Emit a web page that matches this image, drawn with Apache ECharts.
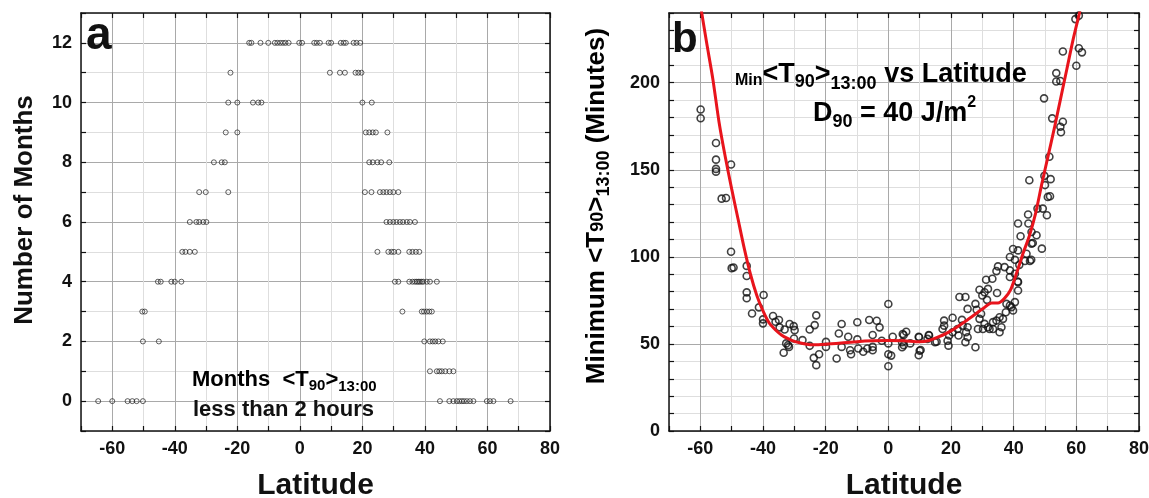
<!DOCTYPE html>
<html><head><meta charset="utf-8">
<script src="https://cdn.jsdelivr.net/npm/echarts@6/dist/echarts.min.js"></script>
<style>html,body{margin:0;padding:0;background:#fff}#c{width:1149px;height:498px}</style>
</head><body><div id="c"></div>
<script>
const FONT = '"Liberation Sans", Arial, Helvetica, sans-serif';

// ---------- Panel a: latitudes of sites, one array per "number of months" row ----------
const monthsRows = [0,1,2,3,4,5,6,7,8,9,10,11,12];
const latM0  = [-64.5,-60,-55.1,-53.6,-52.2,-50.2, 44.8,47.8,49.1,50.2,51,51.8,52.5,53.4,54.4,55.5,59.8,60.8,61.9,67.4];
const latM1  = [41.6,43.8,44.6,45.4,46.5,47.8,49.1];
const latM2  = [-50.2,-45.1, 39.8,41.6,42.5,43.3,44.3,45.7];
const latM3  = [-50.4,-49.6, 32.8,39,39.7,40.6,41.4,42.2];
const latM4  = [-45.4,-44.5,-41.1,-40,-37.9, 30.4,31.5,35,36,36.8,37.4,37.9,38.4,39,39.5,40.6,41.6,43.8];
const latM5  = [-37.6,-36.6,-35.2,-33.6, 24.8,28.3,29.3,30.1,31.5,35,36,37.1,38.2];
const latM6  = [-35.2,-33.1,-32.2,-30.9,-29.9, 27.7,28.8,29.9,30.9,32,33,34.2,35.2,36.8];
const latM7  = [-32.2,-30.1,-22.9, 20.8,22.9,25.6,26.7,27.7,28.8,29.9,31.5];
const latM8  = [-27.5,-25,-24, 22.2,23.3,24.8,26,28.6];
const latM9  = [-23.7,-20, 21.1,22.2,23.3,24.3,28];
const latM10 = [-22.9,-20,-15,-13.3,-12.3, 20,23];
const latM11 = [-22.2, 9.6,12.8,14.4,17.8,18.7,19.7];
const latM12 = [-16.2,-15.5,-12.6,-10.1,-8,-7.2,-6.3,-5.4,-4.6,-3.6,-0.2,0.7,4.6,5.4,6.4,9.2,10,13.1,14,14.7,17.2,18.1,19.3];
const rowsA = [latM0,latM1,latM2,latM3,latM4,latM5,latM6,latM7,latM8,latM9,latM10,latM11,latM12];

// ---------- Panel b: minimum <T90>13:00 (minutes) vs latitude ----------
const bLat = [
 -59.9,-59.9,-55,-55,-55,-55,-50.2,-53.2,-51.8,-50.2,-50,-49.4,-45.2,-45.2,-45.2,-45.2,-43.5,-41.3,-39.8,-40,-40,
 -36.8,-36,-34.9,-34.7,-33.1,-31.5,-30.2,-29.9,-32.6,-32,-31.7,-33.4,-30.1,-27.4,-25.1,-25.1,-23.5,-23,-23.8,-23,-22.1,
 -19.9,-19.9,-16.5,-15.8,-14.9,-14.9,-12.8,-12.2,-11.9,-9.9,-9.9,-9.6,-8,-6.7,-6.1,-5,-5,-5,-3.7,-2.8,-2.1,
 0,0,0,0.9,0,1.4,4.9,4.9,5.7,7,9.7,9.7,
 59.7,60.8,55.7,60.8,61.8,60,53.6,53.6,54.9,49.7,52.3,55.7,54.9,55.1,51.4,49.8,51.8,45,50,50.9,51.6,47.6,49.3,50.6,
 44.6,44.7,41.4,45.7,47.3,42.2,45.7,49,39.8,41.4,44.1,43.6,45.2,38.8,40.4,35,37.1,34.5,38.8,40.4,31.2,33.2,38.8,41.4,
 29.1,30.7,31.8,30,31.5,34.7,41.4,22.7,24.6,27.8,25.3,28.2,29.6,29.1,30.7,31.8,33.4,33.4,35.5,37.7,38.8,39.3,39.8,40.4,
 35.5,36.6,37.5,34.5,36.1,32.3,30.2,28.6,20.5,17.8,17.8,23.5,23.7,25.3,22.1,20.5,22.4,24.8,25.3,24.6,27.8,19.4,18.9,
 19.2,17.3,14.9,13,12.5,9.8,10,4.6,4.4,4.4,10.3,12.9,15.4,45.6,46.1,41.8,41.3
];
const bMin = [
 184.6,179.6,165.4,155.8,150.5,148.9,153,133.4,133.8,102.9,93.5,93.9,94.8,89,79.6,76.2,67.5,71,78.1,64.1,61.8,
 66,62.7,63.7,59.5,58.3,61.4,60.2,57.9,50.3,49.3,48.3,44.9,53.1,52.2,48.9,58.3,60.8,66.4,42,37.8,44.1,
 51.2,48.3,41.6,56,61.4,48.3,54.1,46.4,44.1,62.4,52.6,47.4,45.5,47.4,63.7,55.1,48.3,46.4,63.3,59.5,51.8,
 72.9,50.3,44.1,43.3,37.2,54.1,55.1,49.3,57,50.3,54.1,43.5,
 236.5,238.5,217.9,219.8,217.4,209.7,205.5,200.7,201,191,179.5,177.6,174.7,171.5,157.5,146.5,144.6,144,141.2,134.4,134.8,127.7,127.7,123.9,
 124.3,119.1,119.1,114.3,112.4,111.8,107.6,104.7,104.5,103.7,101.8,97.6,97.6,99.9,98.3,94.5,94.1,91.8,92.2,90.3,86.8,87.4,88.4,85.5,
 81.1,79.7,81.6,77.8,75.3,79.2,80.7,76.9,76.9,73,70.1,69.6,67.3,64.4,61.5,59.6,62.5,58.6,56.7,73,72.1,71.1,69.2,74,
 65.3,64.4,68.2,63.4,59.6,58.6,58.6,58.6,65,63.4,60.5,63.8,60.5,59.6,58.6,56.7,54.8,56.7,53.8,51,48.1,54.8,51.8,
 49,58.6,51,54.8,52.9,53.8,46.1,55.7,51,48.1,46.5,55.1,51.3,98.3,107.9,95.4,85.8
];
// fitted red curve
const curveLat = [-60,-58,-56,-54,-52,-50,-48,-46,-44,-42,-40,-38,-36,-34,-32,-30,-28,-26,-24,-20,-15,-10,-5,0,5,10,13,16,20,25,30,33,35,37,39,41,43,45,47,49,51,53,55,57,59,61,62];
const curveMin = [245,223,202,177,157,139,122,105,90,78,69,62,58,55,53,51.5,50.5,49.8,49.5,49.8,50.5,51.3,51.8,52,51.8,51.2,52,54,57.5,63.5,70,73.5,73.5,76,81,91,102,112,125,142,158,174,191,208,225,240,248];

// tick labels
const xTickLabels = [-60,-40,-20,0,20,40,60,80];
const yTickLabelsA = [0,2,4,6,8,10,12];
const yTickLabelsB = [0,50,100,150,200];

const dataA = [];
rowsA.forEach((row, i) => row.forEach(lat => dataA.push([lat, monthsRows[i]])));
const dataB = bLat.map((v, i) => [v, bMin[i]]);
const dataCurve = curveLat.map((v, i) => [v, curveMin[i]]);

const MAJ = '#a9a9a9', MIN = '#dedede';
function baseX(gi, top, name) {
  return {
    type: 'value', gridIndex: gi, position: top ? 'top' : 'bottom',
    min: -70, max: 80, interval: 10,
    name: top ? '' : name, nameLocation: 'middle', nameGap: 40,
    nameTextStyle: {fontFamily: FONT, fontWeight: 'bold', fontSize: 30, color: '#111'},
    axisLine: {show: true, onZero: false, lineStyle: {color: '#111', width: 1.5}},
    axisTick: {show: true, inside: true, length: 5, lineStyle: {color: '#111', width: 1.2}},
    axisLabel: {show: !top, margin: 9, fontFamily: FONT, fontWeight: 'bold', fontSize: 18, color: '#111',
      formatter: v => xTickLabels.includes(v) ? String(v) : ''},
    splitLine: {show: !top, lineStyle: {color: [MIN, MAJ], width: 1}}
  };
}
function baseY(gi, right, min, max, interval, labels, colors) {
  return {
    type: 'value', gridIndex: gi, position: right ? 'right' : 'left',
    min: min, max: max, interval: interval,
    axisLine: {show: true, onZero: false, lineStyle: {color: '#111', width: 1.5}},
    axisTick: {show: true, inside: true, length: 5, lineStyle: {color: '#111', width: 1.2}},
    axisLabel: {show: !right, margin: 9, fontFamily: FONT, fontWeight: 'bold', fontSize: 18, color: '#111',
      formatter: v => labels.includes(v) ? String(v) : ''},
    splitLine: {show: !right, lineStyle: {color: colors, width: 1}}
  };
}

// rich-text token styles: everything top-aligned, sub/superscripts shifted by top padding
const tok = (size, pt) => ({fontFamily: FONT, fontWeight: 'bold', fontSize: size, color: '#111',
  verticalAlign: 'top', padding: [pt, 0, 0, 0]});

const chart = echarts.init(document.getElementById('c'), null, {renderer: 'canvas'});
chart.setOption({
  backgroundColor: '#fff',
  animation: false,
  grid: [
    {left: 81, top: 13, width: 469, height: 418, outerBoundsMode: 'none', containLabel: false},
    {left: 669, top: 13, width: 470, height: 418, outerBoundsMode: 'none', containLabel: false}
  ],
  xAxis: [baseX(0, false, 'Latitude'), baseX(0, true), baseX(1, false, 'Latitude'), baseX(1, true)],
  yAxis: [
    baseY(0, false, -1, 13, 1, yTickLabelsA, [MIN, MAJ]),
    baseY(0, true, -1, 13, 1, yTickLabelsA, [MIN, MAJ]),
    baseY(1, false, 0, 240, 10, yTickLabelsB, [MAJ, MIN, MIN, MIN, MIN]),
    baseY(1, true, 0, 240, 10, yTickLabelsB, [MAJ, MIN, MIN, MIN, MIN])
  ],
  series: [
    {type: 'scatter', xAxisIndex: 0, yAxisIndex: 0, data: dataA, symbol: 'circle', symbolSize: 5,
      itemStyle: {color: 'rgba(255,255,255,0)', borderColor: '#222', borderWidth: 0.9}, z: 3},
    {type: 'scatter', xAxisIndex: 2, yAxisIndex: 2, data: dataB, symbol: 'circle', symbolSize: 7,
      itemStyle: {color: 'rgba(255,255,255,0)', borderColor: '#111', borderWidth: 1.6}, z: 3},
    {type: 'line', xAxisIndex: 2, yAxisIndex: 2, data: dataCurve, smooth: 0.25, showSymbol: false, clip: true,
      lineStyle: {color: '#e8141c', width: 3}, z: 4}
  ],
  graphic: [
    {type: 'text', x: 86, y: 36, z: 10, style: {text: 'a', font: 'bold 46px ' + FONT, fill: '#111', verticalAlign: 'middle'}},
    {type: 'text', x: 672, y: 40, z: 10, style: {text: 'b', font: 'bold 42px ' + FONT, fill: '#111', verticalAlign: 'middle'}},
    {type: 'text', x: 25, y: 210, rotation: Math.PI / 2, z: 10,
      style: {text: 'Number of Months', font: 'bold 26px ' + FONT, fill: '#111', align: 'center', verticalAlign: 'middle'}},
    {type: 'text', x: 580, y: 206, rotation: Math.PI / 2, z: 10,
      style: {text: '{m|Minimum <T}{s1|90}{m|>}{s2|13:00}{m| (Minutes)}', align: 'center', verticalAlign: 'top',
        rich: {m: tok(26, 4), s1: tok(18, 9.4), s2: tok(18, 15.4)}}},
    {type: 'text', x: 192, y: 369, z: 10,
      style: {text: '{m|Months  <T}{s1|90}{m|>}{s2|13:00}', verticalAlign: 'top',
        rich: {m: tok(22, 0), s1: tok(15, 9), s2: tok(15, 10.7)}}},
    {type: 'text', x: 193, y: 410, z: 10,
      style: {text: 'less than 2 hours', font: 'bold 22px ' + FONT, fill: '#111', verticalAlign: 'middle'}},
    {type: 'text', x: 735, y: 61, z: 10,
      style: {text: '{s0|Min}{m|<T}{s1|90}{m|>}{s2|13:00}{m| vs Latitude}', verticalAlign: 'top',
        rich: {m: tok(27, 0), s0: tok(16, 11.3), s1: tok(18, 12.4), s2: tok(18, 14.4)}}},
    {type: 'text', x: 813, y: 95, z: 10,
      style: {text: '{m|D}{s1|90}{m| = 40 J/m}{p|2}', verticalAlign: 'top',
        rich: {m: tok(27, 5.1), s1: tok(18, 18.4), p: tok(16, 0)}}}
  ]
});
</script>
</body></html>
